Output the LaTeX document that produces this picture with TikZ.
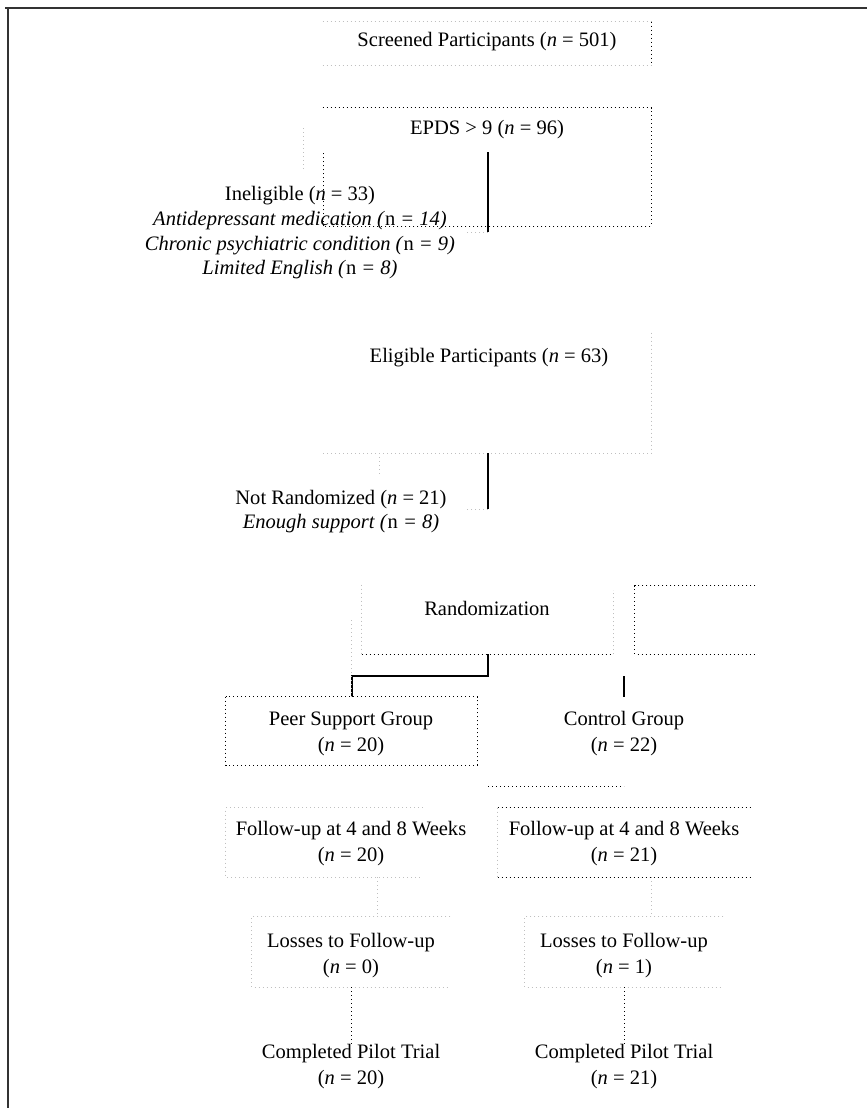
\documentclass[tikz,border=0pt]{standalone}
\usepackage{fontspec}
\setmainfont{Liberation Serif}
\usetikzlibrary{positioning}
\newcommand{\nv}{\textit{n}}

\begin{document}
\begin{tikzpicture}[x=0.75pt, y=-0.75pt,
    every node/.style={font=\fontsize{15.4}{19.5}\selectfont, inner sep=0pt},
    txt/.style={align=center},
    box/.style={minimum width=#1, inner sep=0pt},
    dk/.style={draw=black, line width=0.75pt, dash pattern=on 0.75pt off 2.25pt},
    lt/.style={draw=gray!50, line width=0.75pt, dash pattern=on 0.75pt off 2.25pt},
    flow/.style={draw=black, line width=1.5pt},
    frame/.style={draw=black!80, line width=1.5pt}
]
    \useasboundingbox (0,0) rectangle (867,1108);

    % outer frame
    \coordinate (f0) at (5,8);
    \coordinate (f1) at (867,8);
    \coordinate (f2) at (8,8);
    \coordinate (f3) at (8,1108);
    \draw[frame] (f0) -- (f1);
    \draw[frame] (f2) -- (f3);

    % box outlines
    \node[box=246pt, minimum height=32.25pt] (scrbox) at (487,43.5) {};
    \node[box=246pt, minimum height=88.5pt] (epdsbox) at (487,167) {};
    \node[box=246pt, minimum height=90pt] (eligbox) at (487,393) {};
    \node[box=188.25pt, minimum height=51.75pt] (randbox) at (487.5,619.5) {};
    \node[box=90pt, minimum height=51pt] (sidebox) at (695,620) {};
    \node[box=188.25pt, minimum height=51pt] (peerbox) at (351.5,731) {};
    \node[box=187.5pt, minimum height=51.75pt] (fuAbox) at (351,842.5) {};
    \node[box=189pt, minimum height=51.75pt] (fuBbox) at (624,842.5) {};
    \node[box=148.5pt, minimum height=52.5pt] (lossAbox) at (351,952) {};
    \node[box=148.5pt, minimum height=52.5pt] (lossBbox) at (624,952) {};

    % texts
    \node[txt] (scr) at (487,42) {Screened Participants (\nv{} = 501)};
    \node[txt] (epds) at (487,130) {EPDS > 9 (\nv{} = 96)};
    \node[txt, font=\fontsize{15.4}{18.5}\selectfont] (inel) at (300,233) {Ineligible (\nv{} = 33)\\
        \textit{Antidepressant medication (}n\textit{ = 14)}\\
        \textit{Chronic psychiatric condition (}n\textit{ = 9)}\\
        \textit{Limited English (}n\textit{ = 8)}};
    \node[txt] (elig) at (489,358) {Eligible Participants (\nv{} = 63)};
    \node[txt, font=\fontsize{15.4}{18}\selectfont] (notr) at (341,511.5) {Not Randomized (\nv{} = 21)\\
        \textit{Enough support (}n\textit{ = 8)}};
    \node[txt] (rand) at (487,608) {Randomization};
    \node[txt] (peer) at (351,733.5) {Peer Support Group\\(\nv{} = 20)};
    \node[txt] (ctrl) at (624,733.5) {Control Group\\(\nv{} = 22)};
    \node[txt] (fuA) at (351,844) {Follow-up at 4 and 8 Weeks\\(\nv{} = 20)};
    \node[txt] (fuB) at (624,844) {Follow-up at 4 and 8 Weeks\\(\nv{} = 21)};
    \node[txt] (lossA) at (351,955.5) {Losses to Follow-up\\(\nv{} = 0)};
    \node[txt] (lossB) at (624,955.5) {Losses to Follow-up\\(\nv{} = 1)};
    \node[txt] (compA) at (351,1066.5) {Completed Pilot Trial\\(\nv{} = 20)};
    \node[txt] (compB) at (624,1066.5) {Completed Pilot Trial\\(\nv{} = 21)};

    % broken outlines
    \draw[lt] (scrbox.north west) -- (scrbox.north east);
    \draw[dk] (scrbox.north east) -- (scrbox.south east);
    \draw[lt] (scrbox.south west) -- (scrbox.south east);
    \draw[dk] (epdsbox.north west) -- (epdsbox.north east) -- (epdsbox.south east) -- (epdsbox.south west);
    \draw[dk] (epdsbox.south west) ++(1,0) -- ++(0,-73);
    \draw[lt] (eligbox.north east) -- (eligbox.south east) -- (eligbox.south west);
    \draw[lt] (randbox.north west) -- (randbox.south west);
    \draw[dk] (randbox.south west) -- (randbox.south east);
    \draw[lt] (randbox.south east) -- ++(0,-64);
    \draw[dk] (sidebox.north east) -- (sidebox.north west) -- (sidebox.south west) -- (sidebox.south east);
    \draw[dk] (peerbox.north west) rectangle (peerbox.south east);
    \draw[lt] (fuAbox.north west) ++(197,0) -- (fuAbox.north west) -- (fuAbox.south west) -- ++(197,0);
    \draw[dk] (fuBbox.north west) -- (fuBbox.north east);
    \draw[dk] (fuBbox.south west) -- (fuBbox.south east);
    \draw[lt] (fuBbox.north west) -- (fuBbox.south west);
    \draw[lt] (lossAbox.north east) -- (lossAbox.north west) -- (lossAbox.south west) -- (lossAbox.south east);
    \draw[lt] (lossBbox.north east) -- (lossBbox.north west) -- (lossBbox.south west) -- (lossBbox.south east);

    % connectors
    \coordinate (epdstop) at (488,152);
    \coordinate (epdsfoot) at (488,232);
    \coordinate (eligfoot) at (488,509);
    \coordinate (randknee) at (488,676);
    \coordinate (ctrltop) at (624,676);
    \draw[flow] (epdstop) -- (epdsfoot);
    \draw[lt] (epdsfoot) -- ++(-22,0);
    \draw[lt] (303,128) -- (303,170);
    \draw[flow] (eligbox.south -| eligfoot) -- (eligfoot);
    \draw[lt] (eligfoot) -- ++(-22,0);
    \draw[lt] (379,457) -- (379,475);
    \draw[flow] (randbox.south -| randknee) -- (randknee) -| (peerbox.north);
    \draw[lt] (peerbox.north) -- ++(0,-77);
    \draw[flow] (ctrltop) -- (ctrltop |- peerbox.north);
    \draw[dk] (eligfoot |- 0,786) -- (ctrltop |- 0,786);
    \draw[lt] (fuAbox.south -| 377,0) -- (lossAbox.north -| 377,0);
    \draw[lt] (fuBbox.south -| 651,0) -- (lossBbox.north -| 651,0);
    \draw[dk] (lossAbox.south) -- (compA.north);
    \draw[dk] (lossBbox.south) -- (compB.north);
\end{tikzpicture}
\end{document}
